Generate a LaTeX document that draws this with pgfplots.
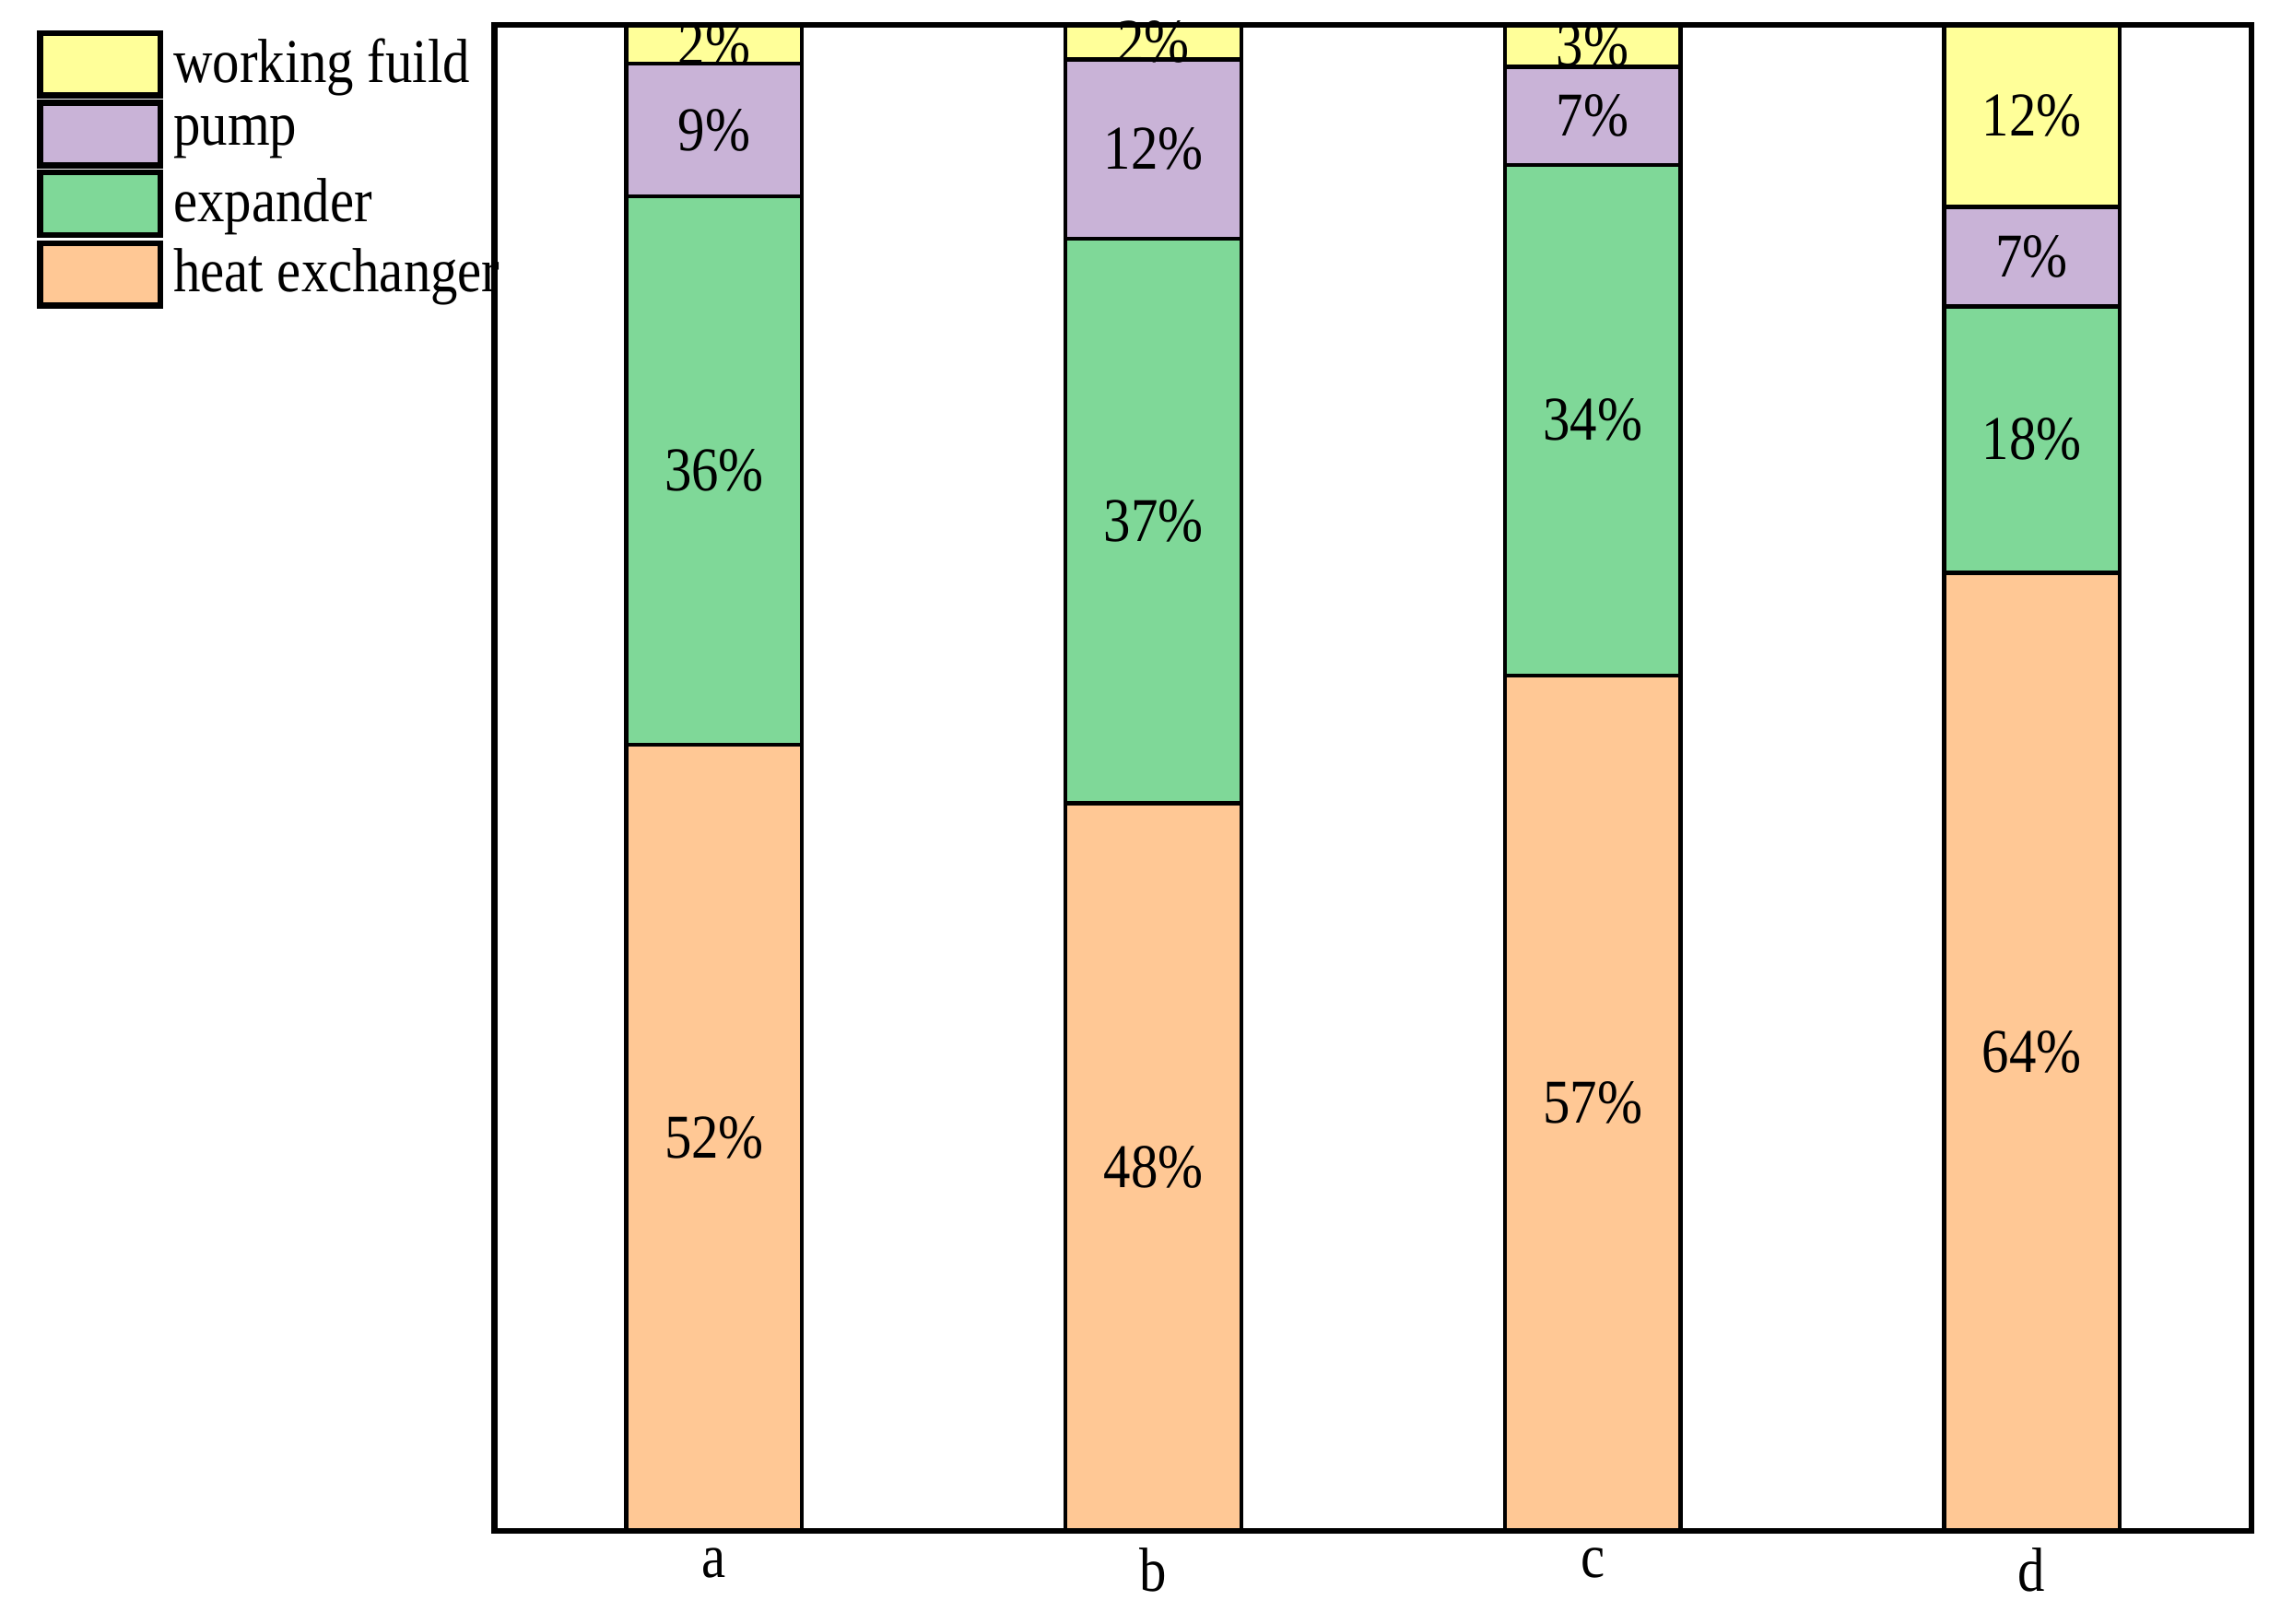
\documentclass[border=0pt]{standalone}
\usepackage{pgfplots}
\pgfplotsset{compat=1.18}
\usepackage{pgfplotstable}
\usepackage{fontspec}
\setmainfont{Liberation Serif}[FakeStretch=0.87]

\definecolor{wfC}{HTML}{FFFF99}
\definecolor{puC}{HTML}{C9B3D7}
\definecolor{exC}{HTML}{7FD898}
\definecolor{heC}{HTML}{FFC895}

\pgfplotstableread{
x he ex pu wf hel exl pul wfl
0 52.2 36.4 8.8 2.6 52 36 9 2
1 48.3 37.5 11.9 2.3 48 37 12 2
2 56.8 33.9 6.5 2.8 57 34 7 3
3 63.6 17.7 6.6 12.1 64 18 7 12
}\data

\begin{document}
\begin{tikzpicture}
\begin{axis}[
    width=12.39cm, height=10.62cm,
    scale only axis,
    ybar stacked,
    bar width=0.4,
    xmin=-0.5, xmax=3.5,
    ymin=0, ymax=100,
    xtick=data,
    xticklabels={a,b,c,d},
    ytick=\empty,
    major tick length=0pt,
    axis on top,
    axis line style={line width=1.2pt},
    font=\fontsize{12.5}{14}\selectfont,
    every axis plot/.append style={draw=black, line width=0.8pt},
    nodes near coords={\pgfplotspointmeta\%},
    every node near coord/.append style={anchor=center},
    point meta=explicit symbolic,
    reverse legend,
    legend style={at={(rel axis cs:-0.2695,1.0)}, anchor=north west, draw=none, fill=none,
        font=\fontsize{12.5}{14}\selectfont, row sep=0pt, yshift=1.4pt},
    legend cell align=left,
    legend image code/.code={\draw[#1, line width=1.2pt] (0cm,-0.22cm) rectangle (0.85cm,0.22cm);},
    clip=false,
]
\addplot[fill=heC] table[x=x, y=he, meta=hel] {\data};
\addplot[fill=exC] table[x=x, y=ex, meta=exl] {\data};
\addplot[fill=puC] table[x=x, y=pu, meta=pul] {\data};
\addplot[fill=wfC] table[x=x, y=wf, meta=wfl] {\data};
\legend{heat exchanger, expander, pump, working fuild}
\coordinate (bl) at (rel axis cs:-0.2815,-0.0616);
\coordinate (tr) at (rel axis cs:1.01,1.0164);
\end{axis}
\pgfresetboundingbox
\path (bl) rectangle (tr);
\end{tikzpicture}
\end{document}
